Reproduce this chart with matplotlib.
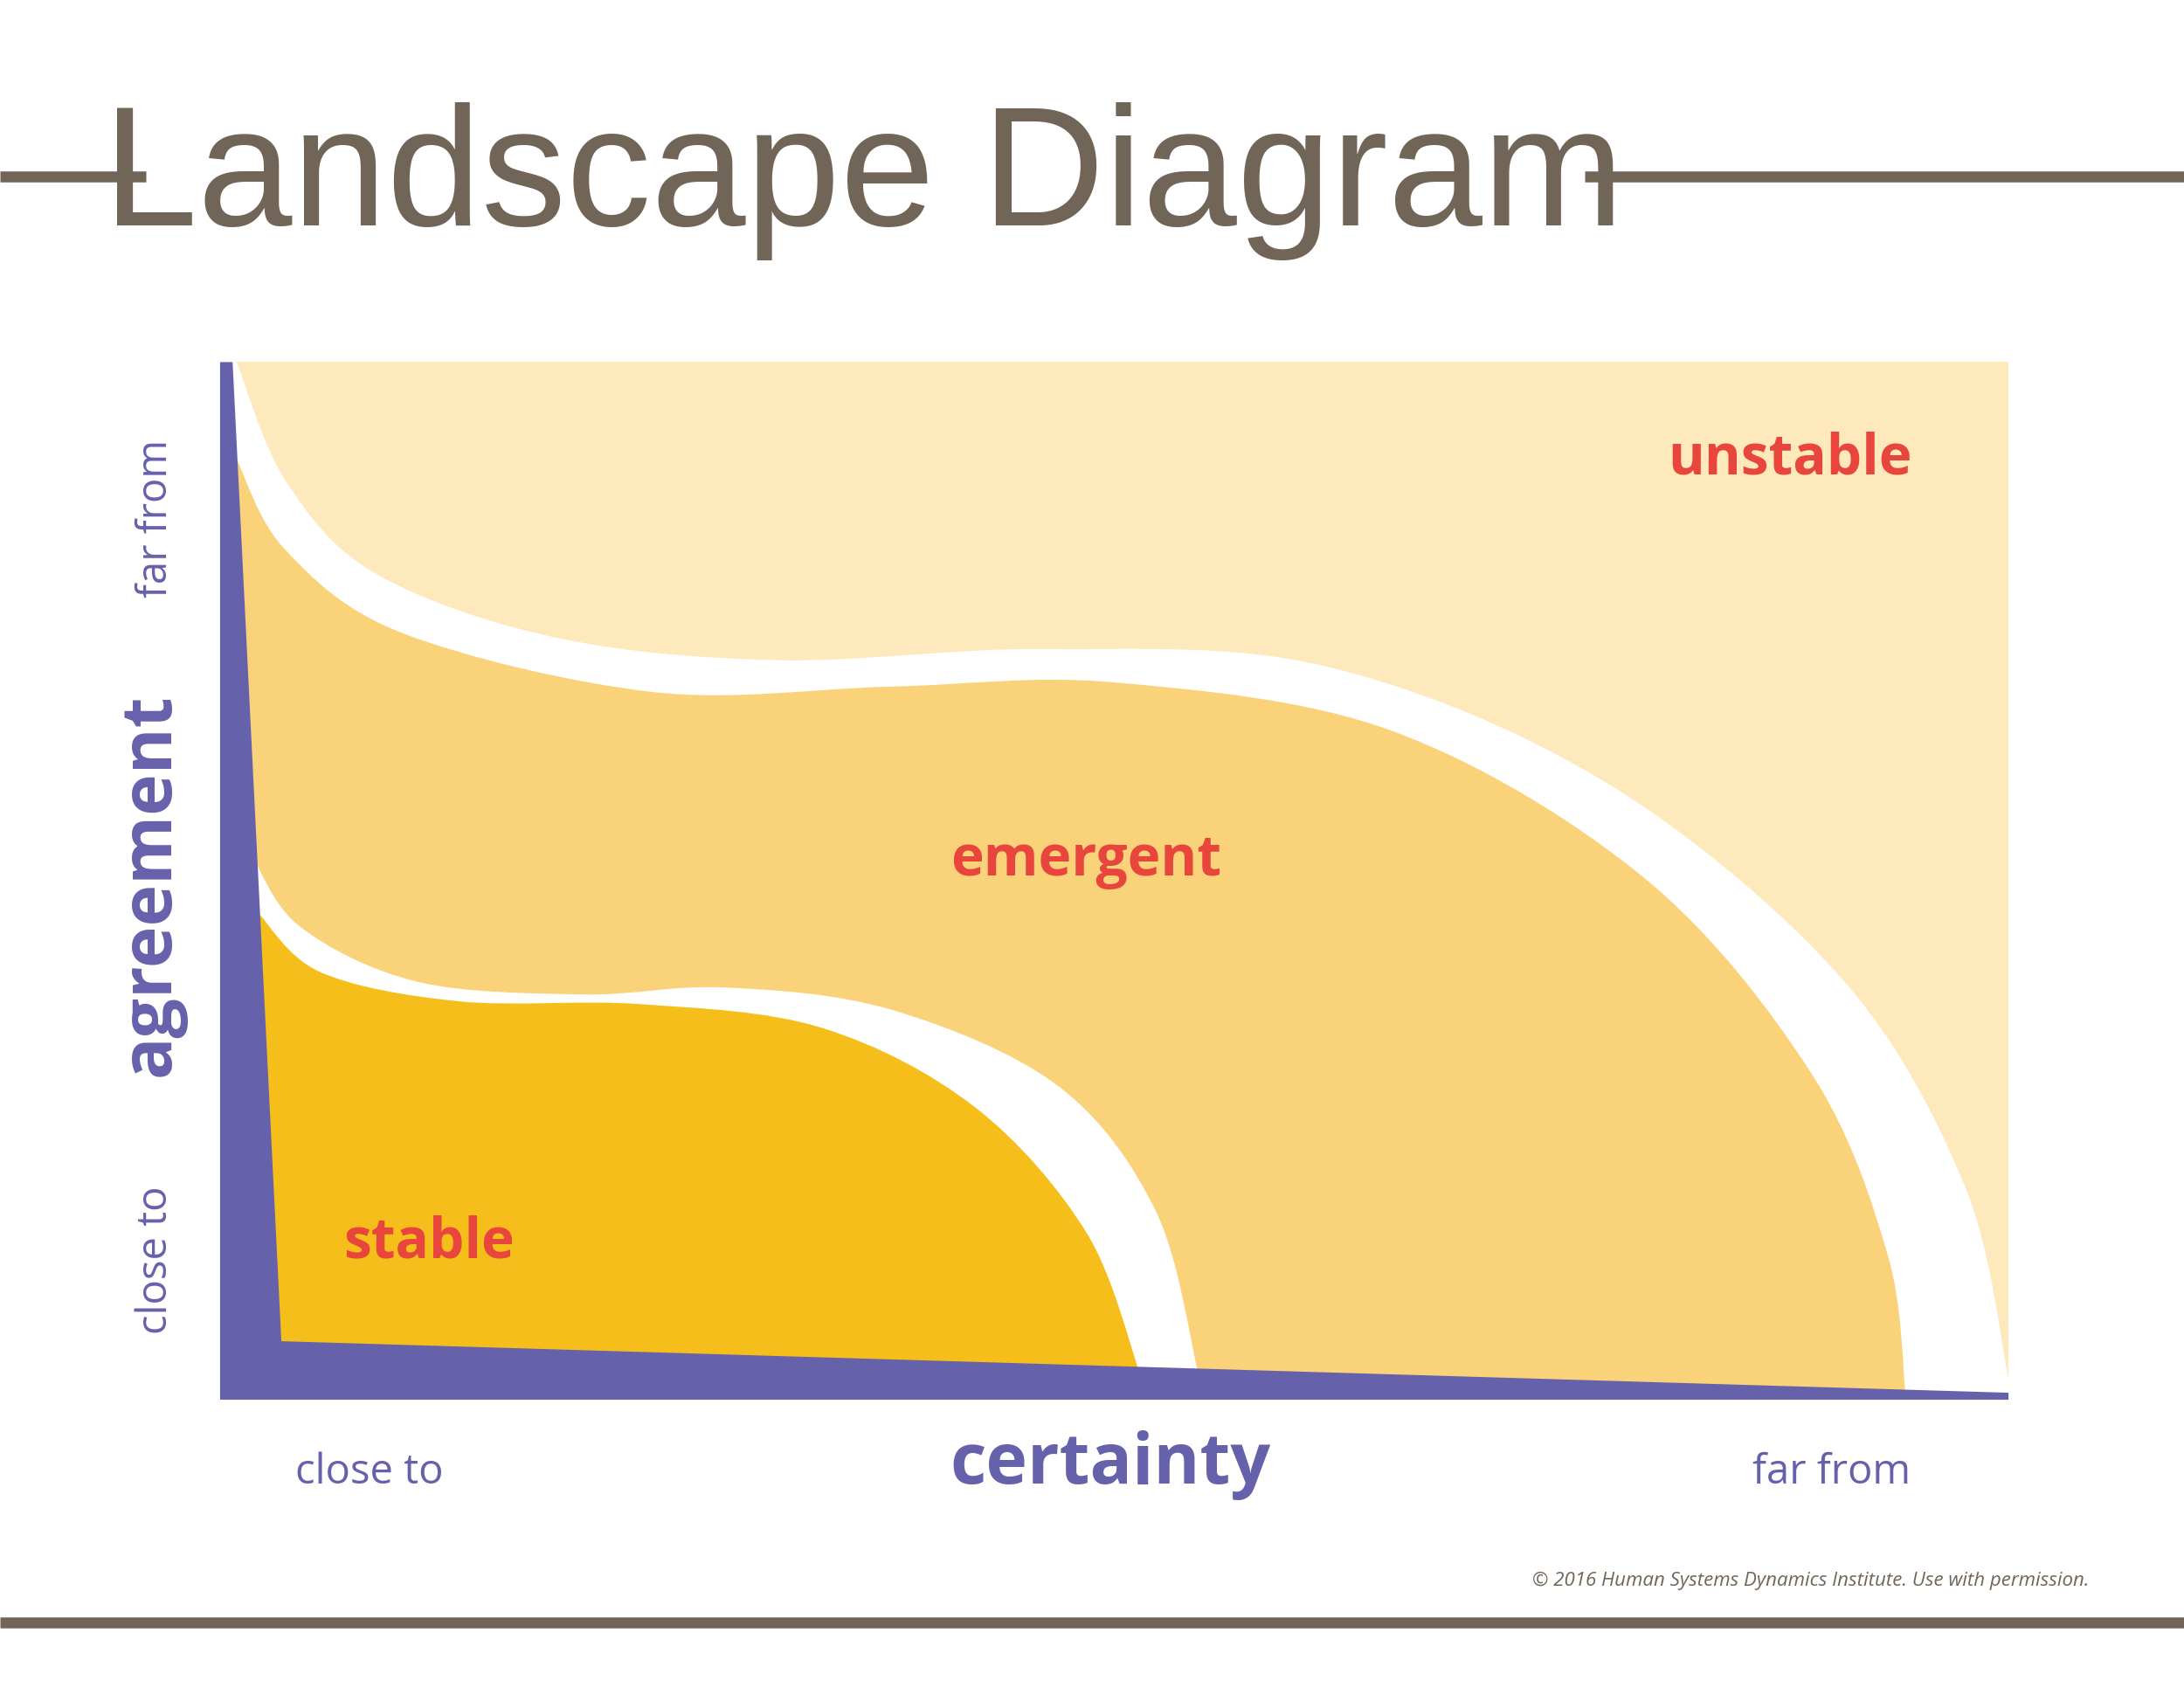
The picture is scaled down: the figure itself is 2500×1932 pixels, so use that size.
import numpy as np
import matplotlib
matplotlib.use("Agg")
import matplotlib.pyplot as plt
from matplotlib.path import Path
from matplotlib.patches import PathPatch, Polygon

# =========================
# Shape data (page units, 1568 x 1212, y down)
# =========================
plot_box = (160, 260, 1442, 1005)  # x0, y0, x1, y1

unstable_edge = [(170, 260), (205, 345), (270, 412), (400, 458), (560, 474), (750, 466),
                 (950, 478), (1150, 560), (1320, 700), (1410, 850), (1442, 990)]
emergent_top = [(170, 330), (205, 395), (290, 455), (470, 497), (640, 493), (800, 490),
                (1000, 525), (1180, 630), (1300, 770), (1355, 900), (1368, 1000)]
emergent_bottom = [(180, 612), (215, 665), (300, 705), (420, 714), (520, 709), (640, 725),
                   (760, 780), (830, 870), (860, 985)]
stable_top = [(185, 655), (230, 698), (330, 719), (460, 721), (590, 738), (700, 795),
              (780, 885), (818, 985)]
axis_poly = [(158, 260), (167, 260), (202, 963), (1442, 1000), (1442, 1005), (158, 1005)]

colors = {"unstable": "#FDE9BC", "emergent": "#F9D27A", "stable": "#F6BE1A",
          "axis": "#6661AB", "label": "#E8453C", "title": "#716557"}


def smooth_path(pts, close_pts):
    # Catmull-Rom through the points, drawn as cubic Bezier segments
    p = np.array(pts, float)
    verts = [tuple(p[0])]
    codes = [Path.MOVETO]
    for i in range(len(p) - 1):
        p0 = p[i - 1] if i > 0 else p[i]
        p1, p2 = p[i], p[i + 1]
        p3 = p[i + 2] if i + 2 < len(p) else p[i + 1]
        c1 = p1 + (p2 - p0) / 6
        c2 = p2 - (p3 - p1) / 6
        verts += [tuple(c1), tuple(c2), tuple(p2)]
        codes += [Path.CURVE4] * 3
    for q in close_pts:
        verts.append(q)
        codes.append(Path.LINETO)
    verts.append(verts[0])
    codes.append(Path.CLOSEPOLY)
    return Path(verts, codes)


fig = plt.figure(figsize=(25, 19.32), dpi=100)
ax = fig.add_axes([0, 0, 1, 1])
ax.set_xlim(0, 1568)
ax.set_ylim(1212, 0)
ax.axis("off")

x0, y0, x1, y1 = plot_box
ax.add_patch(Polygon([(x0, y0), (x1, y0), (x1, y1), (x0, y1)], color=colors["unstable"], lw=0))
corner = [(x1, y1), (x0, y1), (x0, y0)]
ax.add_patch(PathPatch(smooth_path(unstable_edge, corner), color="white", lw=0))
ax.add_patch(PathPatch(smooth_path(emergent_top, corner), color=colors["emergent"], lw=0))
ax.add_patch(PathPatch(smooth_path(emergent_bottom, corner), color="white", lw=0))
ax.add_patch(PathPatch(smooth_path(stable_top, corner), color=colors["stable"], lw=0))
ax.add_patch(Polygon(axis_poly, color=colors["axis"], lw=0))

# title and rules
ax.text(620, 130, "Landscape Diagram", fontsize=140, color=colors["title"],
        family="Liberation Sans", ha="center", va="center")
ax.plot([0, 105], [127, 127], color=colors["title"], lw=9, solid_capstyle="butt")
ax.plot([1138, 1568], [127, 127], color=colors["title"], lw=9, solid_capstyle="butt")
ax.plot([0, 1568], [1165, 1165], color=colors["title"], lw=9, solid_capstyle="butt")

# region labels
for txt, x, y in [("unstable", 1285, 330), ("emergent", 780, 618), ("stable", 308, 893)]:
    ax.text(x, y, txt, fontsize=46, color=colors["label"], family="Open Sans",
            weight="bold", ha="center", va="center")

# axis labels
ax.text(797, 1052, "certainty", fontsize=58, color=colors["axis"], family="Open Sans",
        weight="bold", ha="center", va="center")
ax.text(265, 1057, "close to", fontsize=34, color=colors["axis"], family="Open Sans",
        ha="center", va="center")
ax.text(1315, 1057, "far from", fontsize=34, color=colors["axis"], family="Open Sans",
        ha="center", va="center")
ax.text(108, 635, "agreement", fontsize=58, color=colors["axis"], family="Open Sans",
        weight="bold", ha="center", va="center", rotation=90)
ax.text(112, 905, "close to", fontsize=34, color=colors["axis"], family="Open Sans",
        ha="center", va="center", rotation=90)
ax.text(112, 372, "far from", fontsize=34, color=colors["axis"], family="Open Sans",
        ha="center", va="center", rotation=90)

ax.text(1500, 1135, "\u00a9 2016 Human Systems Dynamics Institute. Use with permission.",
        fontsize=16, color=colors["title"], family="Open Sans", style="italic",
        ha="right", va="center")

fig.savefig("out.png", dpi=100)
